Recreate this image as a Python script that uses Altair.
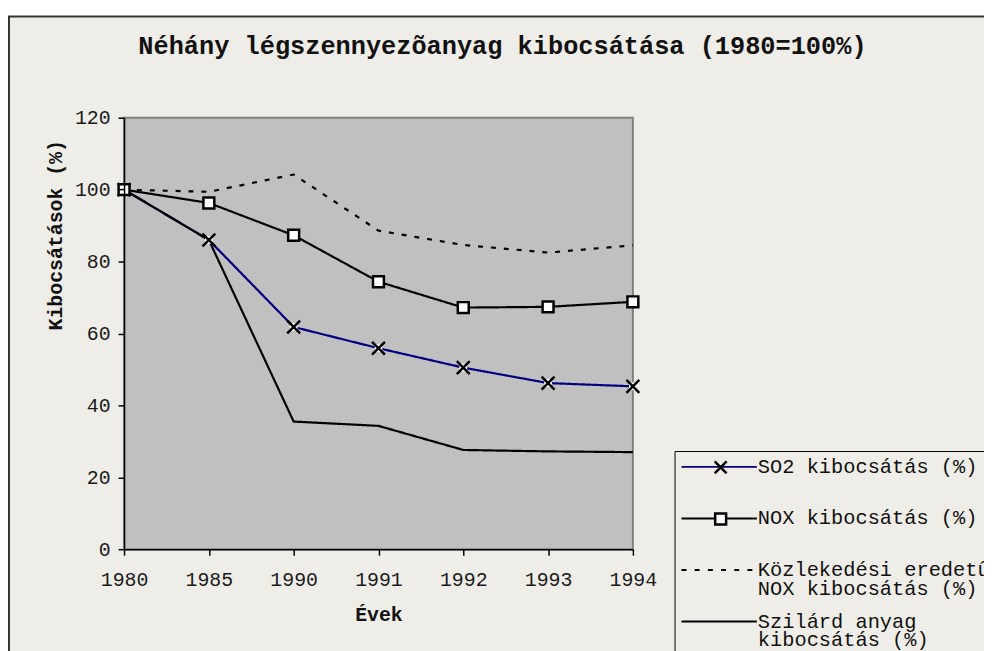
import altair as alt
import pandas as pd

# ---------------- data ----------------
years = ["1980", "1985", "1990", "1991", "1992", "1993", "1994"]
so2 = [100, 86.0, 61.8, 55.9, 50.5, 46.2, 45.3]
nox = [100, 96.3, 87.3, 74.4, 67.2, 67.4, 68.8]
traffic_nox = [100, 99.4, 104.2, 88.6, 84.6, 82.5, 84.5]
solid = [100, 86.0, 35.5, 34.3, 27.6, 27.2, 27.0]

series_names = [
    "SO2 kibocsátás (%)",
    "NOX kibocsátás (%)",
    "Közlekedési eredetû NOX kibocsátás (%)",
    "Szilárd anyag kibocsátás (%)",
]
legend_lines = [
    ["SO2 kibocsátás (%)", ""],
    ["NOX kibocsátás (%)", ""],
    ["Közlekedési eredetû", "NOX kibocsátás (%)"],
    ["Szilárd anyag", "kibocsátás (%)"],
]
y_ticks = [0, 20, 40, 60, 80, 100, 120]
title_text = "Néhány légszennyezõanyag kibocsátása (1980=100%)"
x_title = "Évek"
y_title = "Kibocsátások (%)"

# ---------------- styling ----------------
MONO = "Liberation Mono"
BEIGE = "#EFEDE8"
PLOT_BG = "#C0C0C0"
NAVY = "#000080"
INK = "#111111"
W, H = 513, 435

rows = []
for name, vals in zip(series_names, [so2, nox, traffic_nox, solid]):
    for yr, v in zip(years, vals):
        rows.append({"year": yr, "value": v, "series": name})
df = pd.DataFrame(rows)

# legend symbol paths (unit = 16px; line raised 6px to meet the text middle)
U = 16.0
def u(px):
    return f"{px / U:.4f}"

LY = -6
line_solid = f"M{u(-15)},{u(LY)}H{u(61)}"
dash_parts = []
for i in range(6):
    a = -15 + i * 13.3
    dash_parts.append(f"M{u(a)},{u(LY)}H{u(a + 5)}")
line_dashed = "".join(dash_parts)
line_paths = [line_solid, line_solid, line_dashed, line_solid]
mx = 24
marker_paths = [
    f"M{u(mx - 6)},{u(LY - 6)}L{u(mx + 6)},{u(LY + 6)}M{u(mx - 6)},{u(LY + 6)}L{u(mx + 6)},{u(LY - 6)}",
    f"M{u(mx - 5.5)},{u(LY - 5.5)}H{u(mx + 5.5)}V{u(LY + 5.5)}H{u(mx - 5.5)}Z",
    f"M{u(-15)},{u(LY)}L{u(-15)},{u(LY)}",
    f"M{u(-15)},{u(LY)}L{u(-15)},{u(LY)}",
]

label_expr = ""
for name, lines in zip(series_names, legend_lines):
    arr = "[" + ",".join("'" + s + "'" for s in lines) + "]"
    label_expr += f"datum.label == '{name}' ? {arr} : "
label_expr += "[datum.label]"

legend_common = dict(
    title=None,
    orient="none",
    legendX=555,
    legendY=336,
    padding=5,
    symbolSize=U * U * 4,
    labelOffset=45,
    labelFont=MONO,
    labelFontSize=20.5,
    labelBaseline="alphabetic",
    labelLimit=600,
    labelColor=INK,
    rowPadding=11,
    labelExpr=label_expr,
)

# ---------------- layers ----------------
one = alt.Data(values=[{}])

frame = alt.Chart(one).mark_rect(fill=BEIGE, stroke="#333333", strokeWidth=2).encode(
    x=alt.value(-116), x2=alt.value(1500), y=alt.value(-102), y2=alt.value(1500)
)
plot_bg = alt.Chart(one).mark_rect(fill=PLOT_BG, stroke="#808080", strokeWidth=2).encode(
    x=alt.value(0), x2=alt.value(W), y=alt.value(0), y2=alt.value(H)
)

axis_style = dict(
    labelFont=MONO,
    labelFontSize=20,
    labelColor="#1a1a1a",
    titleFont=MONO,
    titleFontSize=20,
    titleFontWeight="bold",
    titleColor=INK,
    domainColor="black",
    domainWidth=1.5,
    tickColor="black",
    tickWidth=1.5,
    tickSize=6,
    grid=False,
    zindex=1,
)

x_enc = alt.X(
    "year:O",
    sort=years,
    scale=alt.Scale(type="point", padding=0),
    axis=alt.Axis(
        title=x_title,
        labelAngle=0,
        labelPadding=15,
        titlePadding=15,
        **axis_style,
    ),
)
y_enc = alt.Y(
    "value:Q",
    scale=alt.Scale(domain=[0, 120], nice=False),
    axis=alt.Axis(
        title=y_title,
        values=y_ticks,
        labelPadding=8,
        titleX=-69,
        titleY=118,
        titleBaseline="middle",
        titleAngle=270,
        **axis_style,
    ),
)

base = alt.Chart(df).encode(x=x_enc, y=y_enc)

lines = base.mark_line(strokeWidth=2.2).encode(
    color=alt.Color(
        "series:N",
        scale=alt.Scale(domain=series_names, range=[NAVY, "black", "black", "black"]),
        legend=None,
    ),
    strokeDash=alt.StrokeDash(
        "series:N",
        scale=alt.Scale(domain=series_names, range=[[1, 0], [1, 0], [5, 8], [1, 0]]),
        legend=None,
    ),
)

so2_pts = base.transform_filter(alt.datum.series == series_names[0])
so2_bg = so2_pts.mark_point(shape="square", filled=True, fill="white", size=60, opacity=1, strokeWidth=0)
so2_x = so2_pts.mark_point(
    shape="M-1,-1L1,1M-1,1L1,-1", filled=False, stroke="black", strokeWidth=2.5, size=169, opacity=1
)
nox_sq = base.transform_filter(alt.datum.series == series_names[1]).mark_point(
    shape="square", filled=True, fill="white", stroke="black", strokeWidth=2.5, size=121, opacity=1
)

legend_a_props = dict(
    fillColor=BEIGE,
    strokeColor="black",
    symbolStrokeWidth=2,
    zindex=1,
    **legend_common,
)

legend_a = (
    alt.Chart(df)
    .transform_filter("false")
    .mark_point(filled=False, strokeWidth=2, size=U * U * 4, opacity=1)
    .encode(
        shape=alt.Shape(
            "series:N",
            scale=alt.Scale(domain=series_names, range=line_paths),
            legend=alt.Legend(**legend_a_props),
        ),
        stroke=alt.Stroke(
            "series:N",
            scale=alt.Scale(domain=series_names, range=[NAVY, "black", "black", "black"]),
            legend=alt.Legend(**legend_a_props),
        ),
    )
)

legend_b_props = dict(
    symbolStrokeWidth=2.5,
    labelOpacity=0,
    zindex=2,
    **legend_common,
)

legend_b = (
    alt.Chart(df)
    .transform_filter("false")
    .transform_calculate(marker="datum.series")
    .mark_point(filled=False, strokeWidth=2.5, size=U * U * 4, opacity=1)
    .encode(
        shape=alt.Shape(
            "marker:N",
            scale=alt.Scale(domain=series_names, range=marker_paths),
            legend=alt.Legend(**legend_b_props),
        ),
        stroke=alt.Stroke(
            "marker:N",
            scale=alt.Scale(domain=series_names, range=["black"] * 4),
            legend=alt.Legend(**legend_b_props),
        ),
        fill=alt.Fill(
            "marker:N",
            scale=alt.Scale(domain=series_names, range=["white"] * 4),
            legend=alt.Legend(**legend_b_props),
        ),
    )
)

chart = (
    alt.layer(frame, plot_bg, lines, so2_bg, so2_x, nox_sq, legend_a, legend_b)
    .resolve_scale(shape="independent", stroke="independent", fill="independent")
    .resolve_legend(shape="independent", stroke="independent", fill="independent")
    .properties(
        width=W,
        height=H,
        autosize=alt.AutoSizeParams(type="none"),
        padding={"left": 117, "top": 108, "right": 354, "bottom": 100},
        background="white",
        title=alt.Title(
            title_text,
            font=MONO,
            fontSize=25.5,
            fontWeight="bold",
            color=INK,
            anchor="middle",
            dx=125,
            offset=-44,
        ),
    )
    .configure(style={"guide-label": {"lineHeight": 19}})
    .configure_view(strokeWidth=0)
)

chart.save("out.html", embed_options={"renderer": "svg", "actions": False})
